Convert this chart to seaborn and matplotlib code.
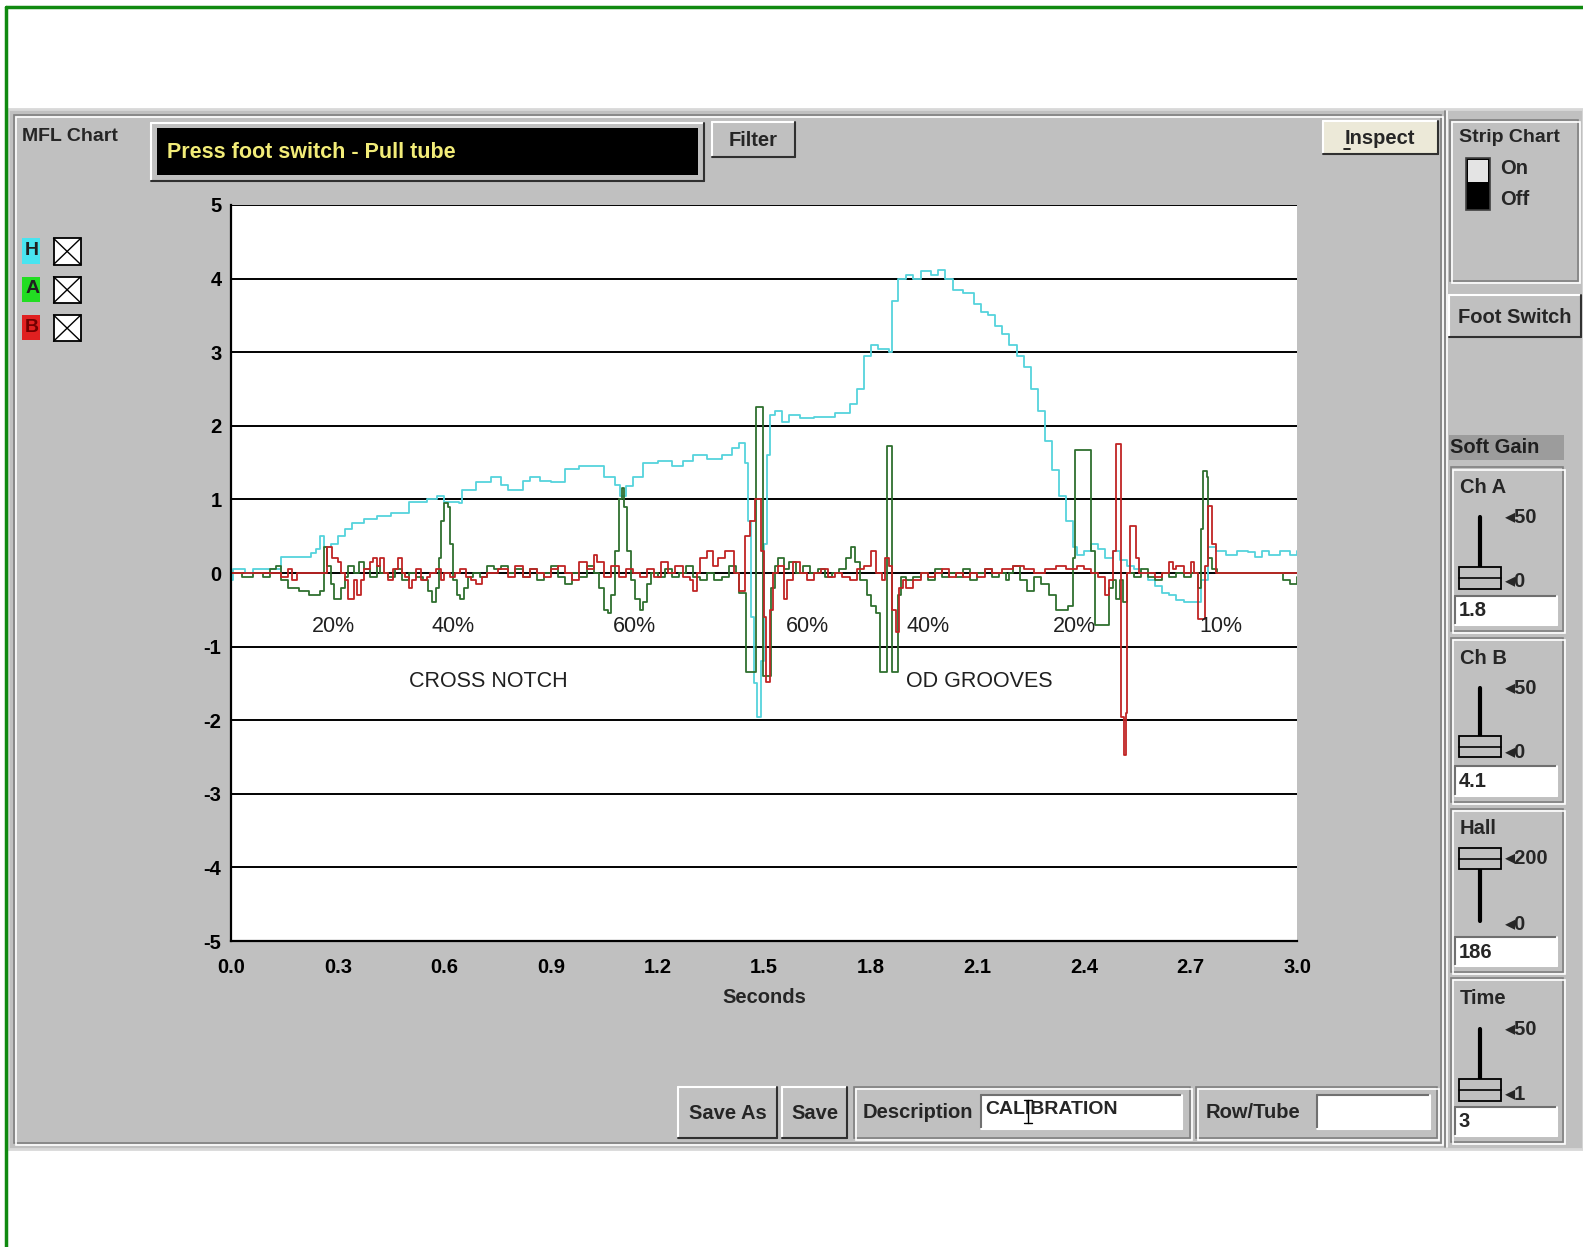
import numpy as np
import pandas as pd
import seaborn as sns
import matplotlib.pyplot as plt
from matplotlib.patches import Rectangle

# datos (segundos, valor)
h_t = [0.000, 0.005, 0.04, 0.06, 0.14, 0.225, 0.24, 0.25, 0.26, 0.28, 0.30, 0.32, 0.34, 0.375,
       0.41, 0.45, 0.50, 0.55, 0.58, 0.60, 0.64, 0.65, 0.69, 0.73, 0.76, 0.78, 0.82, 0.84, 0.87,
       0.90, 0.94, 0.98, 1.02, 1.05, 1.08, 1.095, 1.11, 1.13, 1.16, 1.20, 1.24, 1.27, 1.30, 1.34,
       1.38, 1.41, 1.43, 1.445, 1.455, 1.462, 1.47, 1.48, 1.49, 1.50, 1.508, 1.515, 1.53, 1.55,
       1.57, 1.60, 1.64, 1.70, 1.74, 1.76, 1.78, 1.80, 1.82, 1.85, 1.86, 1.875, 1.90, 1.92, 1.94,
       1.97, 1.99, 2.01, 2.03, 2.06, 2.09, 2.11, 2.13, 2.15, 2.17, 2.19, 2.21, 2.23, 2.25, 2.27,
       2.29, 2.31, 2.33, 2.35, 2.37, 2.38, 2.40, 2.42, 2.44, 2.46, 2.48, 2.50, 2.52, 2.54, 2.56,
       2.58, 2.60, 2.62, 2.64, 2.66, 2.68, 2.72, 2.73, 2.75, 2.77, 2.80, 2.83, 2.86, 2.88, 2.90,
       2.92, 2.95, 2.98, 3.00]
h_v = [-0.1, 0.05, 0.0, 0.05, 0.22, 0.27, 0.32, 0.5, 0.36, 0.4, 0.5, 0.6, 0.68, 0.73,
       0.77, 0.82, 0.97, 1.0, 1.05, 0.97, 0.95, 1.13, 1.23, 1.3, 1.2, 1.13, 1.25, 1.31, 1.25,
       1.23, 1.41, 1.45, 1.45, 1.31, 1.2, 1.05, 1.18, 1.31, 1.5, 1.52, 1.45, 1.52, 1.6, 1.55,
       1.6, 1.7, 1.77, 1.5, 0.7, -0.6, -1.5, -1.95, -1.2, 0.4, 1.6, 2.15, 2.2, 2.05,
       2.15, 2.1, 2.12, 2.18, 2.3, 2.5, 2.95, 3.1, 3.05, 3.0, 3.7, 4.0, 4.05, 4.0, 4.1,
       4.05, 4.12, 4.0, 3.85, 3.8, 3.65, 3.55, 3.5, 3.35, 3.25, 3.1, 2.95, 2.8, 2.5, 2.2,
       1.8, 1.4, 1.05, 0.7, 0.35, 0.25, 0.3, 0.4, 0.32, 0.2, 0.3, 0.18, 0.1, 0.05, 0.0,
       -0.1, -0.18, -0.27, -0.3, -0.36, -0.4, -0.4, -0.1, 0.35, 0.3, 0.25, 0.3, 0.28, 0.22, 0.3,
       0.25, 0.3, 0.25, 0.3]

a_t = [0.00, 0.03, 0.06, 0.09, 0.11, 0.125, 0.14, 0.16, 0.19, 0.22, 0.25, 0.26, 0.27, 0.28,
       0.29, 0.31, 0.32, 0.33, 0.345, 0.36, 0.375, 0.39, 0.41, 0.42, 0.44, 0.46, 0.48, 0.50,
       0.52, 0.54, 0.555, 0.565, 0.575, 0.585, 0.59, 0.60, 0.61, 0.615, 0.625, 0.635, 0.645,
       0.655, 0.665, 0.68, 0.70, 0.72, 0.74, 0.76, 0.78, 0.80, 0.82, 0.84, 0.86, 0.88, 0.90,
       0.92, 0.94, 0.96, 0.98, 1.00, 1.02, 1.035, 1.05, 1.06, 1.07, 1.08, 1.09, 1.10, 1.105,
       1.115, 1.125, 1.135, 1.15, 1.16, 1.17, 1.18, 1.20, 1.22, 1.24, 1.26, 1.28, 1.30, 1.32,
       1.34, 1.36, 1.38, 1.40, 1.42, 1.43, 1.449, 1.478, 1.497, 1.52, 1.53, 1.54, 1.555, 1.57,
       1.59, 1.61, 1.63, 1.65, 1.67, 1.69, 1.71, 1.73, 1.745, 1.755, 1.77, 1.79, 1.80, 1.815,
       1.825, 1.845, 1.86, 1.875, 1.885, 1.90, 1.92, 1.94, 1.96, 1.98, 2.00, 2.02, 2.04, 2.06,
       2.08, 2.10, 2.12, 2.14, 2.16, 2.18, 2.19, 2.20, 2.22, 2.24, 2.26, 2.28, 2.30, 2.32,
       2.355, 2.37, 2.375, 2.42, 2.43, 2.47, 2.48, 2.49, 2.50, 2.51, 2.52, 2.54, 2.56, 2.58,
       2.60, 2.62, 2.64, 2.66, 2.68, 2.70, 2.72, 2.73, 2.735, 2.745, 2.75, 2.76, 2.775, 2.96,
       2.98, 3.00]
a_v = [0.0, -0.05, 0.0, -0.05, 0.05, 0.1, -0.1, -0.2, -0.25, -0.3, -0.25, 0.35, 0.1, -0.15,
       -0.35, -0.2, -0.05, 0.1, 0.0, 0.15, 0.05, -0.05, 0.1, 0.0, -0.05, 0.05, -0.1, 0.0,
       -0.05, -0.1, -0.25, -0.4, -0.2, 0.2, 0.7, 0.95, 0.9, 0.4, -0.1, -0.3, -0.35,
       -0.2, -0.05, 0.0, -0.05, 0.1, 0.05, 0.1, 0.0, 0.05, -0.05, 0.05, -0.1, 0.0, 0.1,
       -0.05, -0.15, 0.0, -0.05, 0.1, 0.0, -0.2, -0.5, -0.55, -0.3, 0.3, 1.0, 1.15, 0.9,
       0.3, -0.1, -0.35, -0.5, -0.4, -0.15, 0.0, -0.05, 0.05, -0.05, 0.0, 0.1, -0.05, -0.1,
       0.0, -0.1, -0.05, 0.1, 0.0, -0.27, -1.35, 2.26, -1.4, -0.2, 0.1, 0.2, 0.05, 0.15,
       0.0, 0.1, 0.0, 0.05, -0.05, 0.0, 0.05, 0.2, 0.35, 0.15, -0.1, -0.3, -0.45, -0.55,
       -1.35, 1.72, -1.35, -0.3, -0.05, -0.1, -0.05, 0.0, -0.1, 0.05, -0.05, 0.0, -0.05, 0.05,
       -0.1, 0.0, 0.05, -0.05, 0.0, -0.1, 0.0, 0.1, -0.1, -0.25, -0.05, -0.15, -0.3, -0.5,
       -0.45, 0.2, 1.67, 0.3, -0.7, -0.2, -0.1, -0.35, -0.1, -0.4, 0.0, -0.05, 0.05, -0.05,
       -0.1, 0.0, -0.05, 0.0, -0.05, 0.0, -0.2, 0.6, 1.38, 1.3, 0.2, 0.05, 0.0, -0.1,
       -0.15, -0.05]

b_t = [0.00, 0.13, 0.14, 0.16, 0.17, 0.185, 0.26, 0.27, 0.285, 0.30, 0.31, 0.32, 0.33, 0.345,
       0.355, 0.365, 0.375, 0.39, 0.40, 0.41, 0.42, 0.43, 0.44, 0.455, 0.47, 0.48, 0.49, 0.50,
       0.51, 0.52, 0.535, 0.55, 0.56, 0.575, 0.59, 0.60, 0.615, 0.63, 0.645, 0.66, 0.675, 0.69,
       0.705, 0.72, 0.75, 0.78, 0.80, 0.82, 0.84, 0.86, 0.88, 0.90, 0.92, 0.94, 0.96, 0.98,
       1.00, 1.02, 1.03, 1.05, 1.07, 1.09, 1.11, 1.13, 1.15, 1.17, 1.19, 1.21, 1.23, 1.25,
       1.27, 1.29, 1.30, 1.31, 1.32, 1.34, 1.355, 1.37, 1.39, 1.40, 1.415, 1.43, 1.445, 1.46,
       1.475, 1.49, 1.50, 1.505, 1.515, 1.525, 1.54, 1.555, 1.565, 1.58, 1.60, 1.62, 1.64,
       1.66, 1.68, 1.70, 1.72, 1.74, 1.76, 1.78, 1.80, 1.815, 1.83, 1.84, 1.85, 1.86, 1.87,
       1.88, 1.89, 1.90, 1.92, 1.94, 1.96, 1.98, 2.00, 2.02, 2.04, 2.06, 2.08, 2.10, 2.12,
       2.14, 2.17, 2.20, 2.23, 2.26, 2.29, 2.32, 2.35, 2.38, 2.40, 2.42, 2.44, 2.46, 2.47,
       2.48, 2.49, 2.503, 2.512, 2.517, 2.522, 2.53, 2.545, 2.555, 2.58, 2.60, 2.62, 2.64,
       2.65, 2.66, 2.68, 2.70, 2.71, 2.72, 2.74, 2.75, 2.76, 2.77, 3.00]
b_v = [0.0, 0.0, -0.05, 0.05, -0.1, 0.0, 0.0, 0.35, 0.2, 0.15, 0.0, -0.1, -0.35, -0.1,
       -0.3, -0.1, 0.05, 0.15, 0.2, 0.1, 0.2, 0.0, -0.1, 0.05, 0.2, 0.0, -0.05, -0.2,
       -0.1, 0.05, -0.1, -0.05, 0.0, 0.05, -0.1, 0.0, -0.05, 0.0, 0.05, -0.05, -0.1, -0.15,
       -0.05, 0.0, 0.05, -0.05, 0.1, -0.05, 0.05, 0.0, -0.05, 0.05, 0.1, 0.0, -0.1, 0.15,
       0.05, 0.25, 0.15, -0.05, 0.1, -0.05, 0.05, 0.0, -0.05, 0.05, -0.05, 0.15, 0.0, 0.1,
       -0.05, -0.1, -0.25, 0.0, 0.2, 0.3, 0.1, 0.2, 0.3, 0.3, 0.0, -0.25, 0.5, 0.7,
       1.0, 0.3, -0.6, -1.48, -0.5, 0.0, 0.1, -0.35, -0.1, 0.15, 0.0, -0.1, 0.0,
       0.05, -0.05, 0.0, -0.05, -0.1, 0.05, 0.1, 0.3, 0.0, -0.1, 0.2, 0.1, -0.5, -0.8,
       -0.2, -0.1, -0.2, -0.1, 0.0, -0.05, 0.0, 0.05, -0.05, 0.0, -0.05, 0.0, -0.05, 0.05,
       0.0, 0.05, 0.1, 0.05, 0.0, 0.05, 0.1, 0.05, 0.1, 0.05, 0.0, -0.05, -0.3, -0.1,
       0.3, 1.75, -1.95, -2.47, -1.9, 0.0, 0.64, 0.2, 0.0, 0.0, -0.05, 0.0, 0.15,
       0.05, 0.1, 0.0, 0.15, 0.0, -0.63, 0.1, 0.91, 0.4, 0.0, 0.0]

pct_labels = ['20%', '40%', '60%', '60%', '40%', '20%', '10%']
pct_x = [0.287, 0.625, 1.134, 1.622, 1.960, 2.372, 2.784]
group_labels = ['CROSS NOTCH', 'OD GROOVES']
group_x = [0.724, 2.104]

x_ticks = [0.0, 0.3, 0.6, 0.9, 1.2, 1.5, 1.8, 2.1, 2.4, 2.7, 3.0]
y_ticks = [-5, -4, -3, -2, -1, 0, 1, 2, 3, 4, 5]

sns.set_style('white')
UI = ['Liberation Sans', 'DejaVu Sans']
plt.rcParams['font.family'] = UI
GRIS = '#c0c0c0'
FS = 14.5

fig = plt.figure(figsize=(15.83, 12.47), dpi=100)
bg = fig.add_axes([0, 0, 1, 1])
bg.set_xlim(0, 1568)
bg.set_ylim(1235, 0)
bg.axis('off')


def caja(x0, y0, x1, y1, fc, ec='none', lw=1, z=1):
    bg.add_patch(Rectangle((x0, y0), x1 - x0, y1 - y0, facecolor=fc, edgecolor=ec, lw=lw, zorder=z))


def bisel(x0, y0, x1, y1, subido=True, z=3):
    c1, c2 = ('white', '#303030') if subido else ('#707070', 'white')
    bg.plot([x0, x1], [y0, y0], color=c1, lw=1.5, zorder=z)
    bg.plot([x0, x0], [y0, y1], color=c1, lw=1.5, zorder=z)
    bg.plot([x0, x1], [y1, y1], color=c2, lw=1.5, zorder=z)
    bg.plot([x1, x1], [y0, y1], color=c2, lw=1.5, zorder=z)


def marco(x0, y0, x1, y1, z=3):
    bg.add_patch(Rectangle((x0, y0), x1 - x0, y1 - y0, fill=False, ec='#808080', lw=1.2, zorder=z))
    bg.add_patch(Rectangle((x0 + 2, y0 + 2), x1 - x0, y1 - y0, fill=False, ec='white', lw=1.2, zorder=z))


def txt(x, y, s, size=FS, **kw):
    bg.text(x, y, s, fontsize=size, fontweight='bold', family=UI, va='center', zorder=5, **kw)


def boton(x0, y0, x1, y1, texto, fc=GRIS):
    caja(x0, y0, x1, y1, fc, z=2)
    bisel(x0, y0, x1, y1)
    txt((x0 + x1) / 2, (y0 + y1) / 2 + 1, texto, ha='center')


# borde verde y panel gris
bg.plot([6, 1568], [7, 7], color='#108a10', lw=2.5, zorder=5)
bg.plot([6, 6], [7, 1235], color='#108a10', lw=2.5, zorder=5)
caja(8, 108, 1568, 1138, GRIS, ec='#d8d8d8', lw=2)
marco(14, 114, 1427, 1132)
bg.plot([1431, 1431], [110, 1136], color='#808080', lw=1.2, zorder=3)
bg.plot([1433, 1433], [110, 1136], color='white', lw=1.2, zorder=3)

# cabecera
txt(22, 135, 'MFL Chart', size=14)
caja(150, 122, 697, 179, GRIS, z=2)
bisel(150, 122, 697, 179)
caja(156, 127, 691, 173, 'black', z=3)
txt(165, 151, 'Press foot switch - Pull tube', size=15.5, color='#f2ec78')
boton(705, 121, 787, 155, 'Filter')
boton(1310, 120, 1424, 153, 'Inspect', fc='#ece9d8')
bg.plot([1331, 1337], [148, 148], color='black', lw=1.2, zorder=6)

# leyenda de canales
for nombre, col, y0 in [('H', '#48e4f0', 236), ('A', '#22dd22', 274), ('B', '#e02020', 312)]:
    caja(22, y0, 40, y0 + 25, col, z=2)
    txt(25, y0 + 12, nombre, size=14, color='#202020' if nombre != 'B' else '#700000')
    caja(53, y0, 80, y0 + 26, 'white', ec='black', lw=1.3, z=2)
    bg.plot([53, 80], [y0, y0 + 26], color='black', lw=1, zorder=3)
    bg.plot([53, 80], [y0 + 26, y0], color='black', lw=1, zorder=3)

# panel derecho
marco(1436, 119, 1563, 278)
txt(1445, 136, 'Strip Chart', size=14)
caja(1452, 156, 1476, 208, 'black', ec='#404040', lw=1.2, z=3)
caja(1454, 158, 1474, 180, '#e4e4e4', z=4)
txt(1486, 167, 'On')
txt(1486, 198, 'Off')
boton(1435, 292, 1566, 334, 'Foot Switch')
caja(1435, 431, 1549, 456, '#9c9c9c', z=2)
txt(1436, 443, 'Soft Gain', color='#202020')

deslizadores = [('Ch A', 463, 512, 572, 562, '50', '0', '1.8'),
                ('Ch B', 632, 681, 741, 729, '50', '0', '4.1'),
                ('Hall', 801, 850, 912, 840, '200', '0', '186'),
                ('Time', 969, 1019, 1080, 1069, '50', '1', '3')]
for nombre, y0, ya, yb, yt, top, bot, valor in deslizadores:
    marco(1437, y0, 1548, y0 + 162)
    txt(1446, y0 + 20, nombre)
    bg.plot([1466, 1466], [ya, yb], color='black', lw=3, zorder=4)
    caja(1445, yt, 1487, yt + 21, GRIS, ec='black', lw=1.3, z=5)
    bg.plot([1445, 1487], [yt + 10.5, yt + 10.5], color='black', lw=1.2, zorder=6)
    top_y = ya + 1 if nombre != 'Hall' else yt + 10
    txt(1491, top_y, '\u25c2' + top)
    txt(1491, yb + 4, '\u25c2' + bot)
    caja(1441, y0 + 127, 1542, y0 + 156, 'white', z=3)
    bisel(1441, y0 + 127, 1542, y0 + 156, subido=False, z=4)
    txt(1445, y0 + 142, valor)

# barra inferior
boton(672, 1077, 770, 1127, 'Save As')
boton(775, 1077, 839, 1127, 'Save')
marco(846, 1077, 1179, 1127)
txt(854, 1102, 'Description')
caja(972, 1084, 1171, 1118, 'white', z=3)
bisel(972, 1084, 1171, 1118, subido=False, z=4)
txt(976, 1099, 'CALIBRATION', size=14)
bg.plot([1018, 1018], [1089, 1112], color='black', lw=1, zorder=6)
bg.plot([1014, 1022], [1089, 1089], color='black', lw=1, zorder=6)
bg.plot([1014, 1022], [1112, 1112], color='black', lw=1, zorder=6)
marco(1185, 1077, 1423, 1127)
txt(1194, 1102, 'Row/Tube')
caja(1305, 1084, 1416, 1118, 'white', z=3)
bisel(1305, 1084, 1416, 1118, subido=False, z=4)

# grafico MFL
ax = fig.add_axes([229 / 1568, 1 - 932 / 1235, 1056 / 1568, 729 / 1235])
ax.set_zorder(2)
ax.set_facecolor('white')

h = pd.DataFrame({'t': h_t, 'v': h_v})
a = pd.DataFrame({'t': a_t, 'v': a_v})
b = pd.DataFrame({'t': b_t, 'v': b_v})
sns.lineplot(data=h, x='t', y='v', ax=ax, color='#55d3dc', lw=1.3, drawstyle='steps-post', legend=False)
sns.lineplot(data=a, x='t', y='v', ax=ax, color='#2f6f2f', lw=1.3, drawstyle='steps-post', legend=False)
sns.lineplot(data=b, x='t', y='v', ax=ax, color='#c02424', lw=1.3, drawstyle='steps-post', legend=False)

ax.set_xlim(0, 3)
ax.set_ylim(-5, 5)
ax.set_xticks(x_ticks)
ax.set_xticklabels([f'{v:.1f}' for v in x_ticks])
ax.set_yticks(y_ticks)
ax.set_yticklabels([str(v) for v in y_ticks])
for v in y_ticks[1:]:
    ax.axhline(v, color='black', lw=1.4, zorder=0.5)
ax.spines['right'].set_visible(False)
ax.spines['top'].set_visible(False)
for s in ['left', 'bottom']:
    ax.spines[s].set_color('black')
    ax.spines[s].set_linewidth(1.6)
ax.tick_params(direction='out', length=5, width=1.2, colors='black', labelsize=FS)
ax.tick_params(axis='x', pad=7)
ax.tick_params(axis='y', pad=2)
for lbl in ax.get_xticklabels() + ax.get_yticklabels():
    lbl.set_fontweight('bold')
    lbl.set_family(UI)
ax.set_xlabel('Seconds', fontsize=FS, fontweight='bold', family=UI, labelpad=8)
ax.set_ylabel('')

for s, x in zip(pct_labels, pct_x):
    ax.text(x, -0.73, s, ha='center', va='center', fontsize=15.5, family='Liberation Sans', color='#202020')
for s, x in zip(group_labels, group_x):
    ax.text(x, -1.48, s, ha='center', va='center', fontsize=15.5, family='Liberation Sans', color='#202020')

plt.savefig('out.png', dpi=100)
